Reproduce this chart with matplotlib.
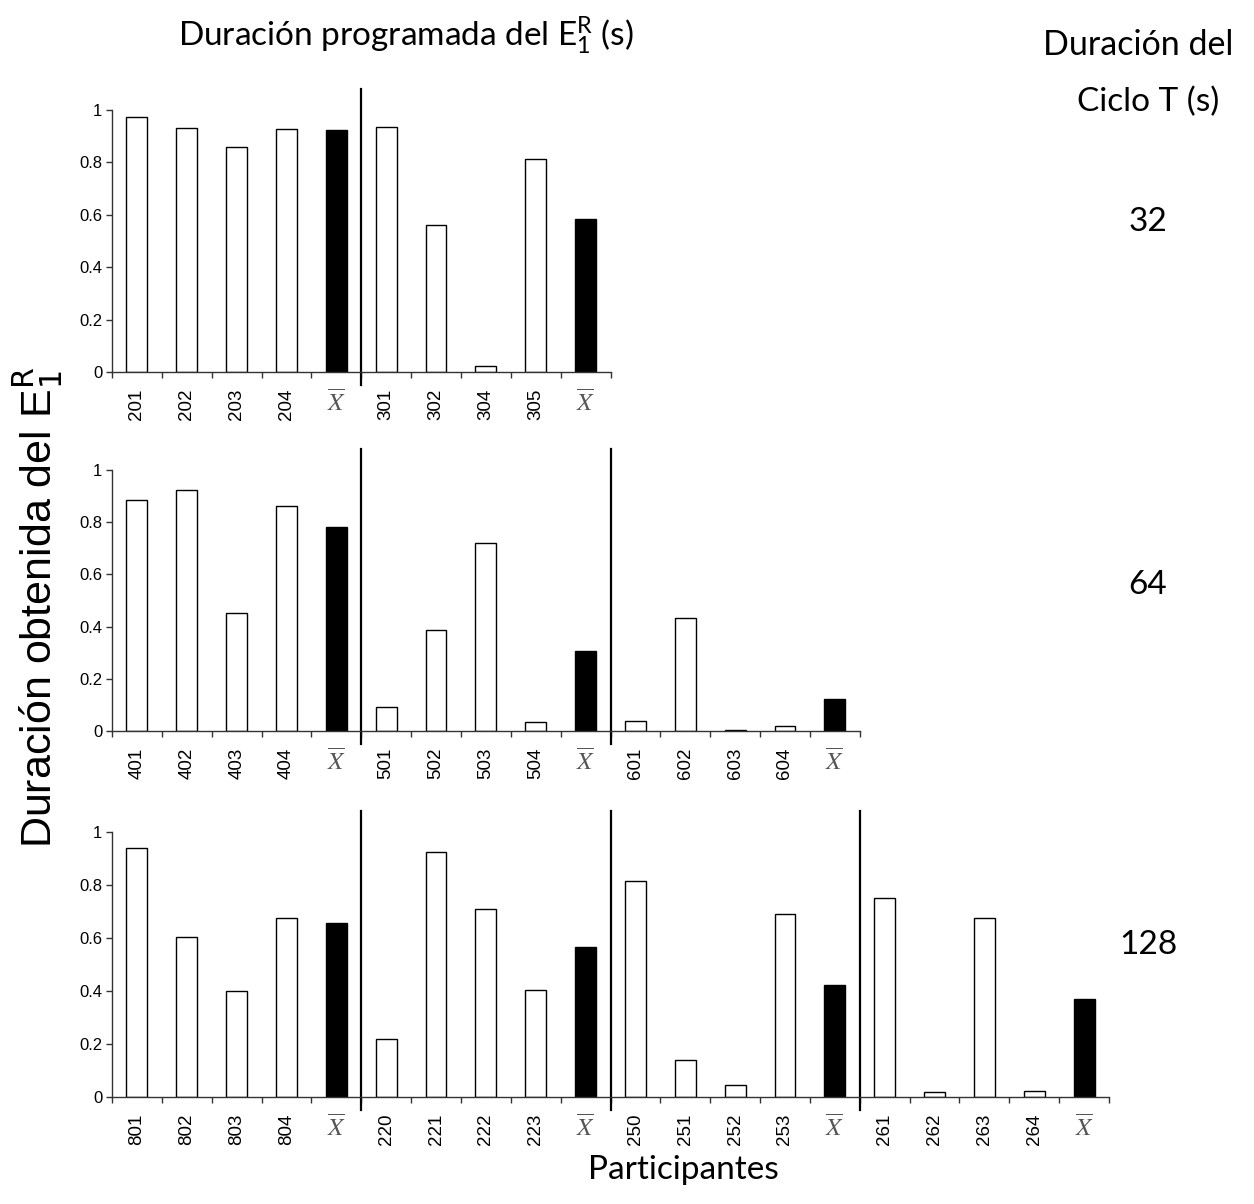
import matplotlib.pyplot as plt

plt.rcParams['mathtext.fontset'] = 'custom'
plt.rcParams['mathtext.rm'] = 'Lato'
plt.rcParams['mathtext.it'] = 'Lato:italic'

# Datos ('X' = media del grupo)
top_labels = ['201', '202', '203', '204', 'X', '301', '302', '304', '305', 'X']
top_values = [0.973, 0.933, 0.859, 0.926, 0.924, 0.936, 0.562, 0.023, 0.812, 0.584]

mid_labels = ['401', '402', '403', '404', 'X', '501', '502', '503', '504', 'X',
              '601', '602', '603', '604', 'X']
mid_values = [0.886, 0.925, 0.451, 0.863, 0.783, 0.091, 0.388, 0.719, 0.033, 0.308,
              0.037, 0.434, 0.005, 0.019, 0.124]

bot_labels = ['801', '802', '803', '804', 'X', '220', '221', '222', '223', 'X',
              '250', '251', '252', '253', 'X', '261', '262', '263', '264', 'X']
bot_values = [0.939, 0.602, 0.400, 0.676, 0.655, 0.218, 0.925, 0.711, 0.405, 0.566,
              0.815, 0.141, 0.046, 0.689, 0.424, 0.751, 0.019, 0.674, 0.023, 0.368]

cycle_labels = ['32', '64', '128']
group_size = 5

W, H = 1254, 1204


def plot_panel(ax, labels, values):
    """Barras de un panel: participantes en blanco, medias en negro."""
    n = len(labels)
    x = list(range(n))
    colors = ['black' if l == 'X' else 'white' for l in labels]
    ax.bar(x, values, width=0.42, color=colors, edgecolor='black', linewidth=1)

    ax.set_xlim(-0.5, n - 0.5)
    ax.set_ylim(0, 1)
    ax.set_yticks([0, 0.2, 0.4, 0.6, 0.8, 1])
    ax.set_yticklabels(['0', '0.2', '0.4', '0.6', '0.8', '1'],
                       family='Liberation Sans', fontsize=12)
    ax.tick_params(axis='y', length=4, width=1, color='#333333', pad=3)

    ax.set_xticks(x)
    texts = [r'$\overline{X}$' if l == 'X' else l for l in labels]
    ticklabels = ax.set_xticklabels(texts, rotation=90, family='Liberation Sans',
                                    fontsize=13.5)
    for t, l in zip(ticklabels, labels):
        if l == 'X':
            t.set_rotation(0)
            t.set_math_fontfamily('stix')
            t.set_color('#555555')
            t.set_fontsize(18)
    ax.set_xticks([i - 0.5 for i in range(n + 1)], minor=True)
    ax.tick_params(axis='x', which='major', length=0, pad=12)
    ax.tick_params(axis='x', which='minor', length=4, width=1, color='#333333')

    for side in ['top', 'right']:
        ax.spines[side].set_visible(False)
    for side in ['left', 'bottom']:
        ax.spines[side].set_color('#333333')
        ax.spines[side].set_linewidth(1)

    # lineas que separan los grupos
    for b in range(group_size, n, group_size):
        ax.plot([b - 0.5, b - 0.5], [-0.05, 1.08], color='black', lw=1.6,
                clip_on=False)


fig = plt.figure(figsize=(W / 100, H / 100), dpi=100)

cat_w = 49.85
left = 112
panels = [
    (top_labels, top_values, 110, 372),
    (mid_labels, mid_values, 470, 731),
    (bot_labels, bot_values, 832, 1097),
]
label_y = [222, 585, 945]

for (labels, values, y_top, y_bot), cyc, ly in zip(panels, cycle_labels, label_y):
    width = cat_w * len(labels)
    ax = fig.add_axes([left / W, 1 - y_bot / H, width / W, (y_bot - y_top) / H])
    plot_panel(ax, labels, values)
    fig.text(1148 / W, 1 - ly / H, cyc, ha='center', va='center',
             family='Lato', fontsize=24)

fig.text(406 / W, 1 - 36 / H, r'Duración programada del E$^{\mathrm{R}}_{1}$ (s)',
         ha='center', va='center', family='Lato', fontsize=24)
fig.text(1138 / W, 1 - 45 / H, 'Duración del', ha='center', va='center',
         family='Lato', fontsize=24.5)
fig.text(1148 / W, 1 - 102 / H, 'Ciclo T (s)', ha='center', va='center',
         family='Lato', fontsize=24)
fig.text(683 / W, 1 - 1170 / H, 'Participantes', ha='center', va='center',
         family='Lato', fontsize=24)
fig.text(38 / W, 1 - 607 / H, r'Duración obtenida del E$^{\mathrm{R}}_{1}$',
         ha='center', va='center', rotation=90, family='Liberation Sans',
         fontsize=31, math_fontfamily='dejavusans')

fig.savefig('out.png', dpi=100)
